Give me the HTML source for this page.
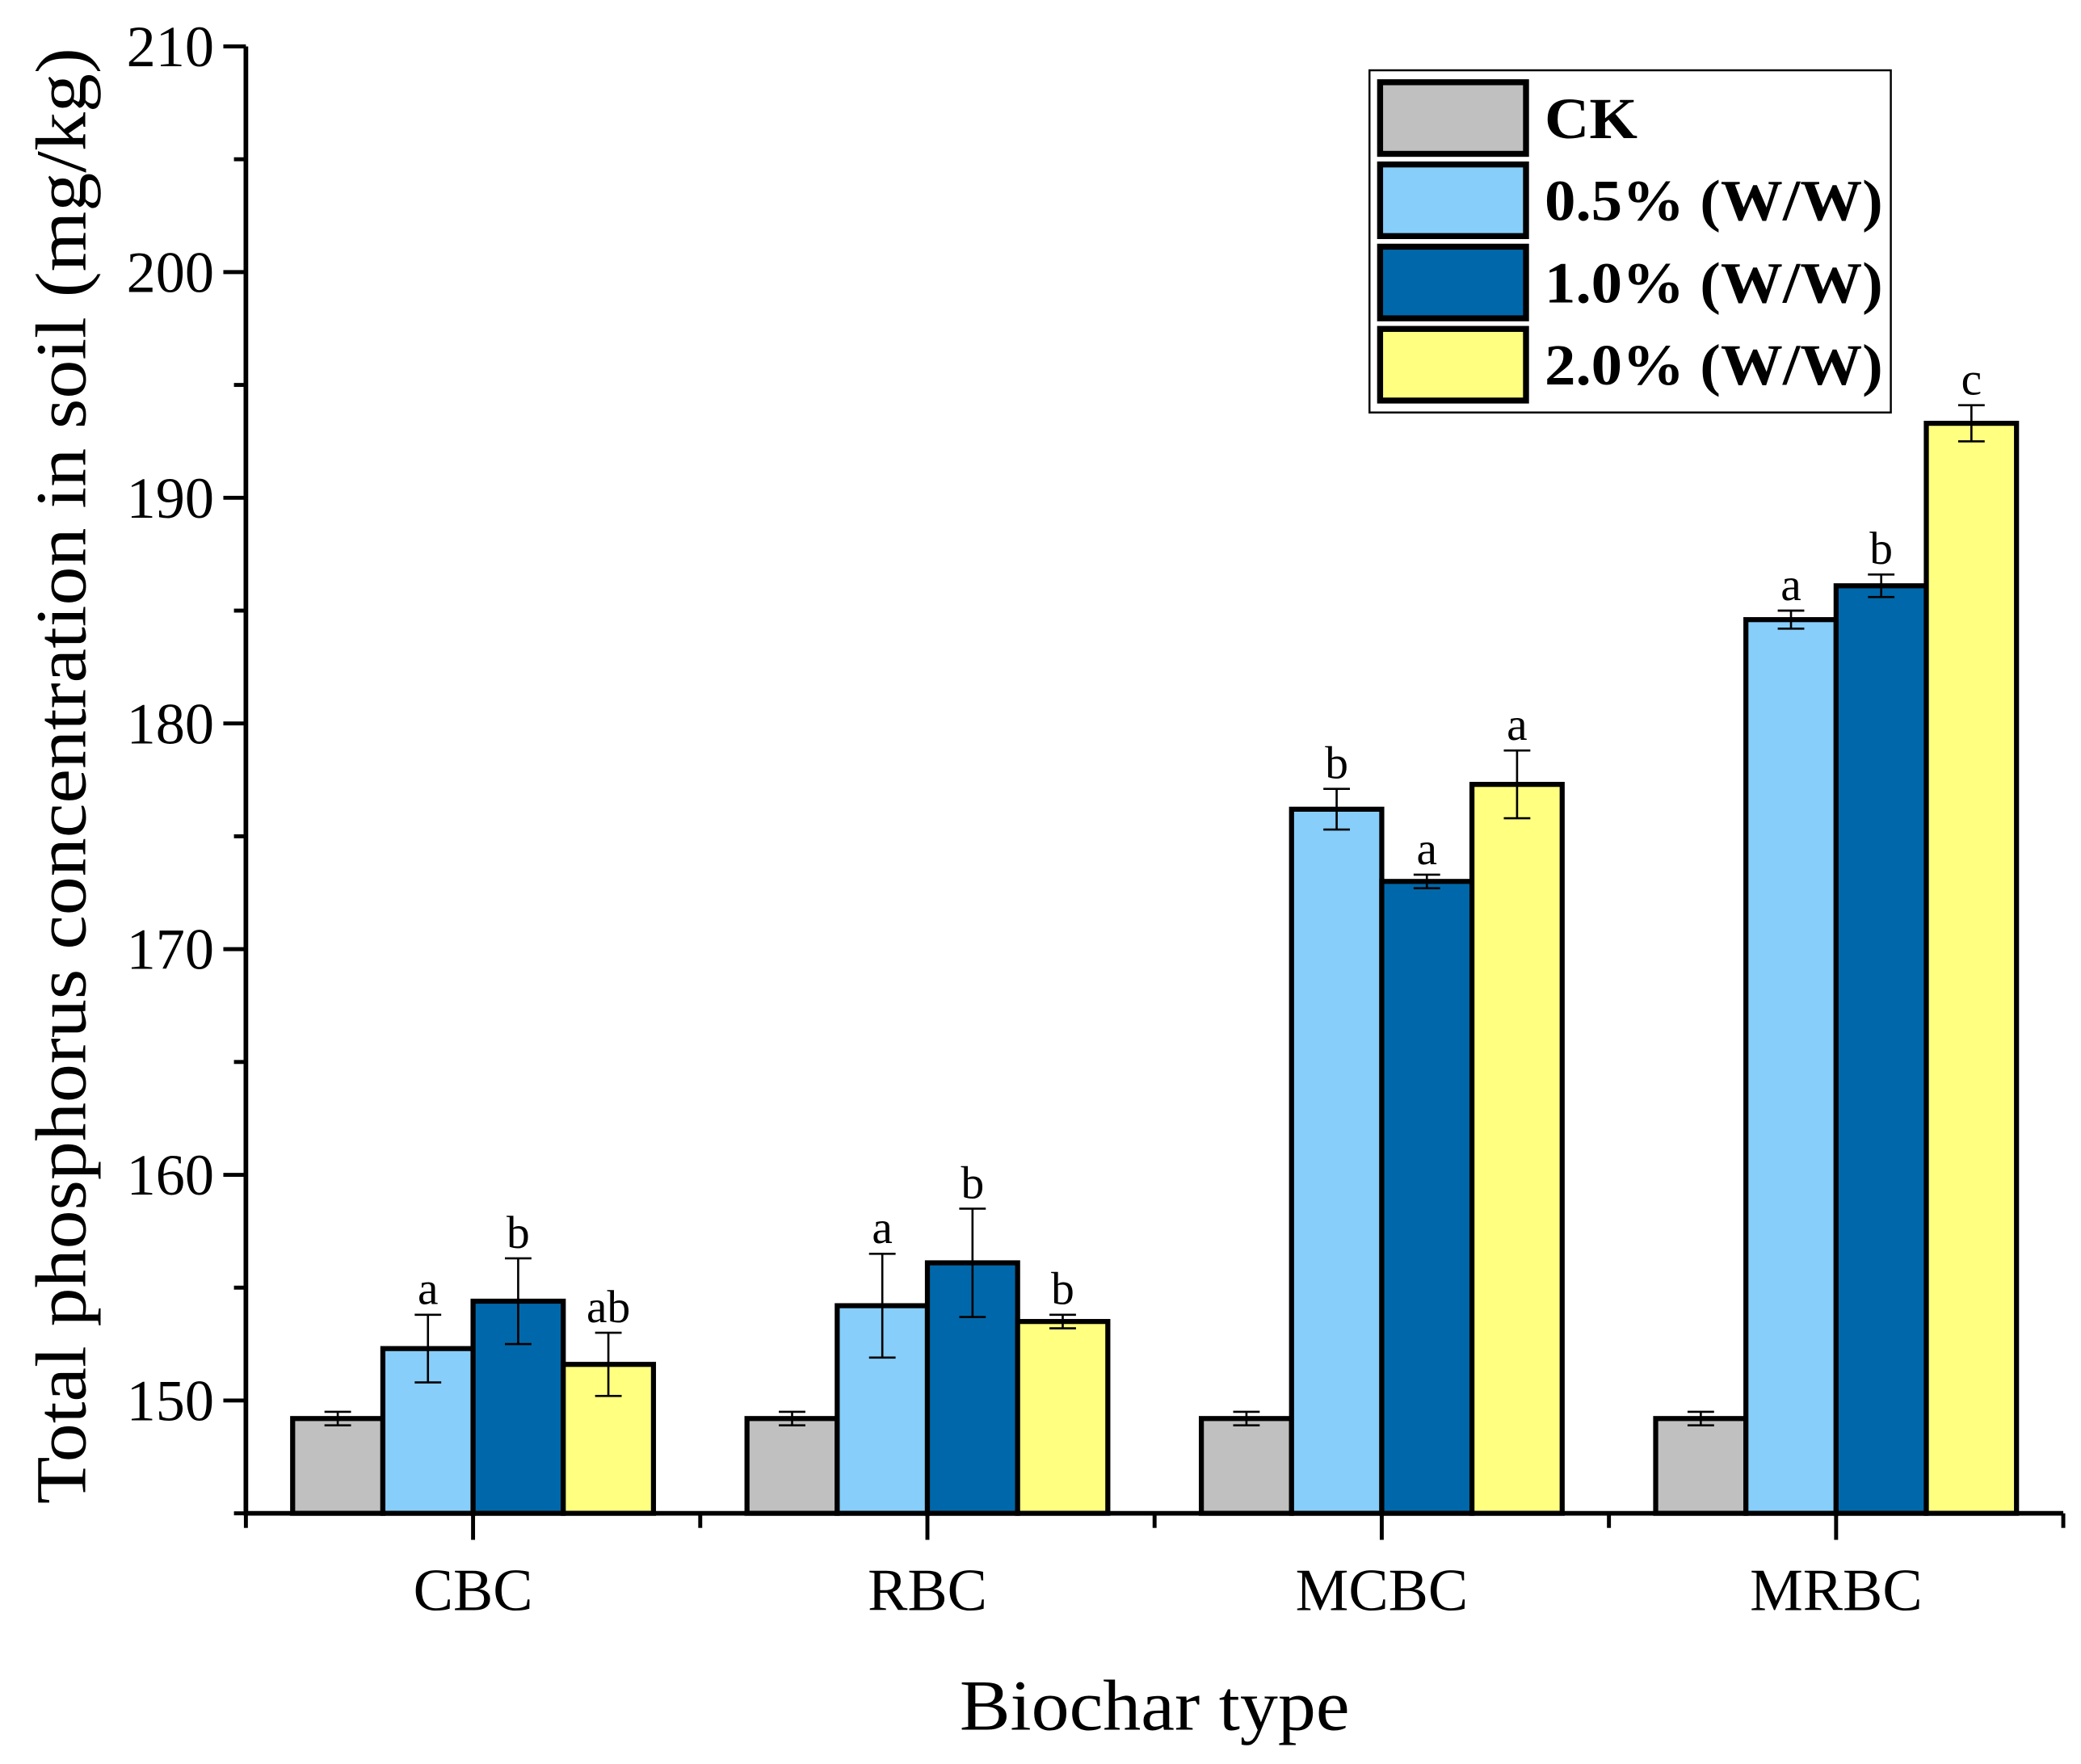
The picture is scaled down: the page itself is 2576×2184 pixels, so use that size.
<!DOCTYPE html>
<html><head><meta charset="utf-8"><style>html,body{margin:0;padding:0;background:#fff}svg{display:block}</style></head>
<body>
<svg id="chart" width="2576" height="2184" viewBox="0 0 1568 1330" xmlns="http://www.w3.org/2000/svg" font-family="'Liberation Serif', serif">
<g id="plot"></g>
</svg>
<script>
const categories = ["CBC","RBC","MCBC","MRBC"];
const seriesNames = ["CK","0.5% (W/W)","1.0% (W/W)","2.0% (W/W)"];
const seriesColors = ["#c0c0c0","#87cefa","#0068aa","#ffff80"];
const ckValues = [149.2,149.2,149.2,149.2];
const ckErrors = [0.3,0.3,0.3,0.3];
const p05Values = [152.3,154.2,176.2,184.6];
const p05Errors = [1.5,2.3,0.9,0.4];
const p10Values = [154.4,156.1,173.0,186.1];
const p10Errors = [1.9,2.4,0.3,0.5];
const p20Values = [151.6,153.5,177.3,193.3];
const p20Errors = [1.4,0.3,1.5,0.8];
const p05Letters = ["a","a","b","a"];
const p10Letters = ["b","b","a","b"];
const p20Letters = ["ab","b","a","c"];
const yTicks = [150,160,170,180,190,200,210];

const values=[ckValues,p05Values,p10Values,p20Values];
const errors=[ckErrors,p05Errors,p10Errors,p20Errors];
const letters=[null,p05Letters,p10Letters,p20Letters];
const NS="http://www.w3.org/2000/svg";
const g=document.getElementById('plot');
const X0=185,X1=1555,Y0=1141,YT=35,YMIN=145,YMAX=210;
const y=v=>Y0-(v-YMIN)/(YMAX-YMIN)*(Y0-YT);
const gw=(X1-X0)/categories.length;
const cx=i=>X0+gw*(i+0.5);
const bw=68;
function mk(t,a,txt){const e=document.createElementNS(NS,t);for(const k in a)e.setAttribute(k,a[k]);if(txt!==undefined)e.textContent=txt;g.appendChild(e);return e;}

categories.forEach((c,i)=>{
  for(let s=0;s<4;s++){
    const v=values[s][i],er=errors[s][i];
    const x=cx(i)-2*bw+s*bw;
    const r=mk('rect',{x:x,y:y(v),width:bw,height:Y0-y(v),fill:seriesColors[s],stroke:'#000','stroke-width':3.8});
    
    
    const m=x+bw/2;
    const e=mk('path',{d:`M${m} ${y(v+er)}V${y(v-er)}M${m-10} ${y(v+er)}h20M${m-10} ${y(v-er)}h20`,stroke:'#000','stroke-width':1.6,fill:'none'});
    
    
    if(letters[s]){
      const t=mk('text',{x:m,y:y(v+er)-8,'text-anchor':'middle','font-size':35},letters[s][i]);
      
      
    }
  }
  const tl=mk('text',{x:cx(i),y:1214,'text-anchor':'middle','font-size':45},c);
  
  
  mk('line',{x1:cx(i),y1:Y0,x2:cx(i),y2:Y0+20,stroke:'#000','stroke-width':3});
});
for(let i=0;i<=categories.length;i++) mk('line',{x1:X0+gw*i,y1:Y0,x2:X0+gw*i,y2:Y0+11,stroke:'#000','stroke-width':3});
for(let v=145;v<=210;v+=5){
  const major=v%10===0;
  mk('line',{x1:X0-(major?17:9),y1:y(v),x2:X0,y2:y(v),stroke:'#000','stroke-width':3});
}
yTicks.forEach(v=>{
  const t=mk('text',{x:X0-24,y:y(v)+15,'text-anchor':'end','font-size':44},String(v));
  
  
});
const ax=mk('path',{d:`M${X0} ${YT}V${Y0}H${X1}`,stroke:'#000','stroke-width':3.5,fill:'none'});


const xt=mk('text',{x:870,y:1304,'text-anchor':'middle','font-size':54,textLength:294,lengthAdjust:'spacingAndGlyphs'},'Biochar type');


const yt=mk('text',{x:0,y:0,'text-anchor':'middle','font-size':54,textLength:1098,lengthAdjust:'spacingAndGlyphs',transform:'translate(64,585) rotate(-90)'},'Total phosphorus concentration in soil (mg/kg)');


const lb=mk('rect',{x:1032,y:53,width:393,height:258,fill:'#fff',stroke:'#000','stroke-width':1.5});


const rowY=[62,124,186,248];
const legLen=[70,255,255,255];
seriesNames.forEach((n,s)=>{
  const sw=mk('rect',{x:1040,y:rowY[s],width:110,height:54,fill:seriesColors[s],stroke:'#000','stroke-width':4.5});
  
  
  const t=mk('text',{x:1164,y:rowY[s]+42,'font-size':44,'font-weight':'bold',textLength:legLen[s],lengthAdjust:'spacingAndGlyphs'},n);
  
  
});
</script>
</body></html>
